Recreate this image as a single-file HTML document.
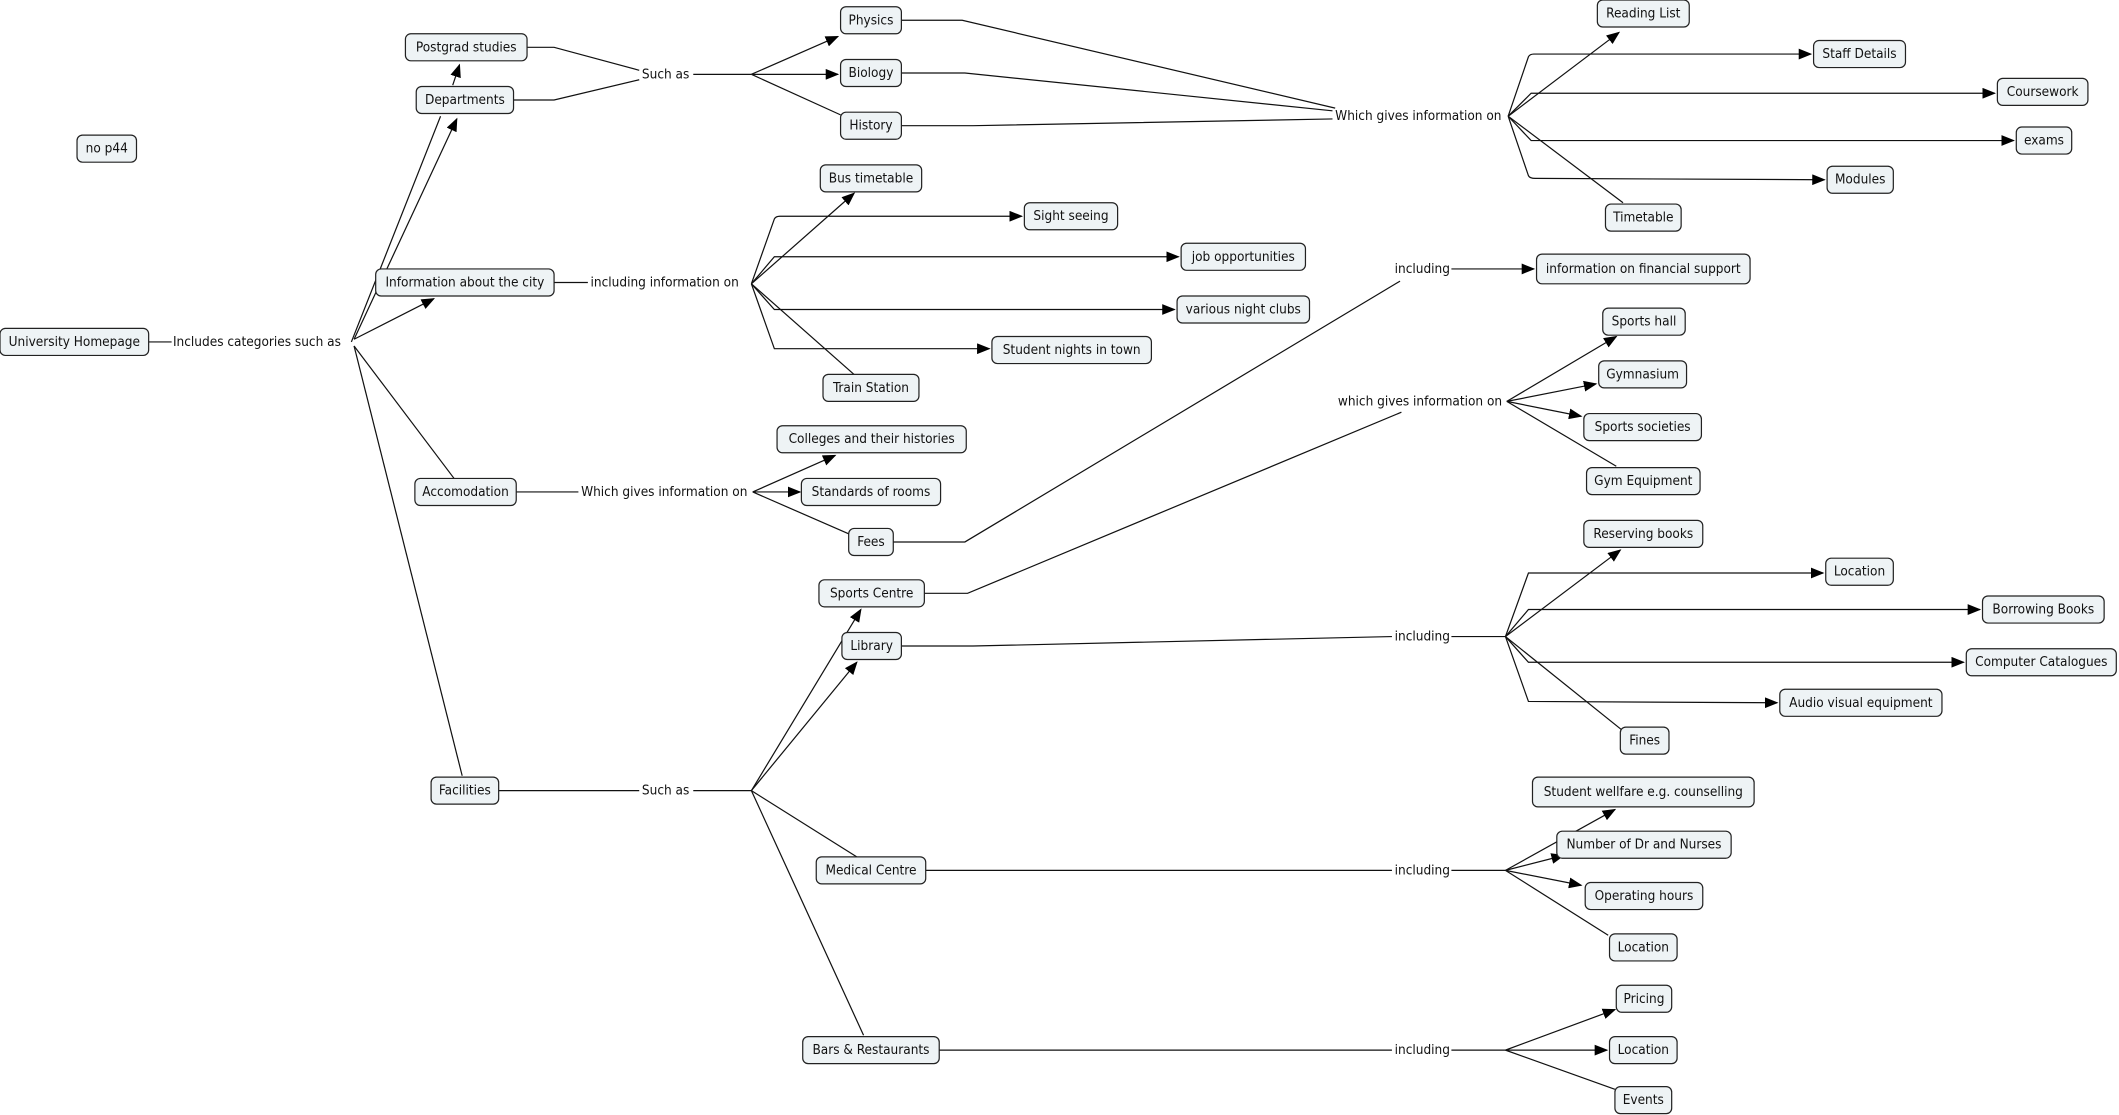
<!DOCTYPE html>
<html><head><meta charset="utf-8"><style>
html,body{margin:0;padding:0;background:#fff;width:2119px;height:1115px;overflow:hidden}
svg{display:block}
text{font-family:"DejaVu Sans Condensed","Liberation Sans",sans-serif;font-size:10px;fill:#111;dominant-baseline:central}
.b{fill:#eef3f5;stroke:#222;stroke-width:0.9}
.l{fill:none;stroke:#111;stroke-width:0.9}
</style></head><body>
<svg width="2119" height="1115" viewBox="0 0 1568 825" preserveAspectRatio="none">
<defs><marker id="a" markerWidth="10" markerHeight="8" refX="9" refY="4" orient="auto" markerUnits="userSpaceOnUse"><path d="M0,0 L10,4 L0,8 z" fill="#000"/></marker></defs>
<g class="l">
<path d="M110,253H127"/>
<path d="M260,253L326,86"/>
<path d="M262,251L338,88" marker-end="url(#a)"/>
<path d="M335,63L340,48" marker-end="url(#a)"/>
<path d="M262,251L321,221" marker-end="url(#a)"/>
<path d="M262,256L336,354"/>
<path d="M262,256L342,574"/>
<path d="M390,35H410L473,52"/>
<path d="M380,74H410L473,59"/>
<path d="M513,55H556"/>
<path d="M556,55L620,27" marker-end="url(#a)"/>
<path d="M556,55H620" marker-end="url(#a)"/>
<path d="M556,55L622,85"/>
<path d="M667,15H712L988,80"/>
<path d="M667,54H714L986,82"/>
<path d="M667,93H720L986,88"/>
<path d="M1116,86L1198,24" marker-end="url(#a)"/>
<path d="M1116,86L1131,42Q1132,40 1135,40H1340" marker-end="url(#a)"/>
<path d="M1116,86L1133,69H1476" marker-end="url(#a)"/>
<path d="M1116,86L1133,104H1490" marker-end="url(#a)"/>
<path d="M1116,86L1131,130Q1132,132 1136,132L1350,133" marker-end="url(#a)"/>
<path d="M1116,86L1201,150"/>
<path d="M410,209H435"/>
<path d="M556,210L632,143" marker-end="url(#a)"/>
<path d="M556,210L573,162Q574,160 577,160H756" marker-end="url(#a)"/>
<path d="M556,210L573,190H872" marker-end="url(#a)"/>
<path d="M556,210L573,229H869" marker-end="url(#a)"/>
<path d="M556,210L573,258H732" marker-end="url(#a)"/>
<path d="M556,210L633,278"/>
<path d="M382,364H428"/>
<path d="M557,364L618,337" marker-end="url(#a)"/>
<path d="M557,364H592" marker-end="url(#a)"/>
<path d="M557,364L628,395"/>
<path d="M661,401H714L1036,208"/>
<path d="M1074,199H1135" marker-end="url(#a)"/>
<path d="M684,439H716L1037,305"/>
<path d="M1115,297L1196,249" marker-end="url(#a)"/>
<path d="M1115,297L1181,284" marker-end="url(#a)"/>
<path d="M1115,297L1170,308" marker-end="url(#a)"/>
<path d="M1115,297L1196,345"/>
<path d="M369,585H473"/>
<path d="M513,585H556"/>
<path d="M556,585L637,451" marker-end="url(#a)"/>
<path d="M556,585L634,490" marker-end="url(#a)"/>
<path d="M556,585L634,634"/>
<path d="M556,585L639,766"/>
<path d="M667,478H720L1030,471"/>
<path d="M1074,471H1114"/>
<path d="M1114,471L1199,407" marker-end="url(#a)"/>
<path d="M1114,471L1131,424H1349" marker-end="url(#a)"/>
<path d="M1114,471L1131,451H1465" marker-end="url(#a)"/>
<path d="M1114,471L1131,490H1453" marker-end="url(#a)"/>
<path d="M1114,471L1131,519L1315,520" marker-end="url(#a)"/>
<path d="M1114,471L1200,540"/>
<path d="M685,644H1030"/>
<path d="M1074,644H1114"/>
<path d="M1114,644L1195,599" marker-end="url(#a)"/>
<path d="M1114,644L1157,633" marker-end="url(#a)"/>
<path d="M1114,644L1170,655" marker-end="url(#a)"/>
<path d="M1114,644L1190,692"/>
<path d="M695,777H1030"/>
<path d="M1074,777H1114"/>
<path d="M1114,777L1195,747" marker-end="url(#a)"/>
<path d="M1114,777H1189" marker-end="url(#a)"/>
<path d="M1114,777L1195,806"/>
</g>
<g>
<rect class="b" x="57" y="100" width="44" height="20" rx="4"/><text x="79" y="110" text-anchor="middle">no p44</text>
<rect class="b" x="0" y="243" width="110" height="20" rx="4"/><text x="55" y="253" text-anchor="middle">University Homepage</text>
<rect class="b" x="300" y="25" width="90" height="20" rx="4"/><text x="345" y="35" text-anchor="middle">Postgrad studies</text>
<rect class="b" x="308" y="64" width="72" height="20" rx="4"/><text x="344" y="74" text-anchor="middle">Departments</text>
<rect class="b" x="278" y="199" width="132" height="20" rx="4"/><text x="344" y="209" text-anchor="middle">Information about the city</text>
<rect class="b" x="307" y="354" width="75" height="20" rx="4"/><text x="344.5" y="364" text-anchor="middle">Accomodation</text>
<rect class="b" x="319" y="575" width="50" height="20" rx="4"/><text x="344" y="585" text-anchor="middle">Facilities</text>
<rect class="b" x="622" y="5" width="45" height="20" rx="4"/><text x="644.5" y="15" text-anchor="middle">Physics</text>
<rect class="b" x="622" y="44" width="45" height="20" rx="4"/><text x="644.5" y="54" text-anchor="middle">Biology</text>
<rect class="b" x="622" y="83" width="45" height="20" rx="4"/><text x="644.5" y="93" text-anchor="middle">History</text>
<rect class="b" x="1182" y="0" width="68" height="20" rx="4"/><text x="1216" y="10" text-anchor="middle">Reading List</text>
<rect class="b" x="1342" y="30" width="68" height="20" rx="4"/><text x="1376" y="40" text-anchor="middle">Staff Details</text>
<rect class="b" x="1478" y="58" width="67" height="20" rx="4"/><text x="1511.5" y="68" text-anchor="middle">Coursework</text>
<rect class="b" x="1492" y="94" width="41" height="20" rx="4"/><text x="1512.5" y="104" text-anchor="middle">exams</text>
<rect class="b" x="1352" y="123" width="49" height="20" rx="4"/><text x="1376.5" y="133" text-anchor="middle">Modules</text>
<rect class="b" x="1188" y="151" width="56" height="20" rx="4"/><text x="1216" y="161" text-anchor="middle">Timetable</text>
<rect class="b" x="607" y="122" width="75" height="20" rx="4"/><text x="644.5" y="132" text-anchor="middle">Bus timetable</text>
<rect class="b" x="758" y="150" width="69" height="20" rx="4"/><text x="792.5" y="160" text-anchor="middle">Sight seeing</text>
<rect class="b" x="874" y="180" width="92" height="20" rx="4"/><text x="920" y="190" text-anchor="middle">job opportunities</text>
<rect class="b" x="871" y="219" width="98" height="20" rx="4"/><text x="920" y="229" text-anchor="middle">various night clubs</text>
<rect class="b" x="734" y="249" width="118" height="20" rx="4"/><text x="793" y="259" text-anchor="middle">Student nights in town</text>
<rect class="b" x="609" y="277" width="71" height="20" rx="4"/><text x="644.5" y="287" text-anchor="middle">Train Station</text>
<rect class="b" x="575" y="315" width="140" height="20" rx="4"/><text x="645" y="325" text-anchor="middle">Colleges and their histories</text>
<rect class="b" x="593" y="354" width="103" height="20" rx="4"/><text x="644.5" y="364" text-anchor="middle">Standards of rooms</text>
<rect class="b" x="628" y="391" width="33" height="20" rx="4"/><text x="644.5" y="401" text-anchor="middle">Fees</text>
<rect class="b" x="1137" y="188" width="158" height="22" rx="4"/><text x="1216" y="199" text-anchor="middle">information on financial support</text>
<rect class="b" x="1186" y="228" width="61" height="20" rx="4"/><text x="1216.5" y="238" text-anchor="middle">Sports hall</text>
<rect class="b" x="1183" y="267" width="65" height="20" rx="4"/><text x="1215.5" y="277" text-anchor="middle">Gymnasium</text>
<rect class="b" x="1172" y="306" width="87" height="20" rx="4"/><text x="1215.5" y="316" text-anchor="middle">Sports societies</text>
<rect class="b" x="1174" y="346" width="84" height="20" rx="4"/><text x="1216" y="356" text-anchor="middle">Gym Equipment</text>
<rect class="b" x="606" y="429" width="78" height="20" rx="4"/><text x="645" y="439" text-anchor="middle">Sports Centre</text>
<rect class="b" x="623" y="468" width="44" height="20" rx="4"/><text x="645" y="478" text-anchor="middle">Library</text>
<rect class="b" x="1172" y="385" width="88" height="20" rx="4"/><text x="1216" y="395" text-anchor="middle">Reserving books</text>
<rect class="b" x="1351" y="413" width="50" height="20" rx="4"/><text x="1376" y="423" text-anchor="middle">Location</text>
<rect class="b" x="1467" y="441" width="90" height="20" rx="4"/><text x="1512" y="451" text-anchor="middle">Borrowing Books</text>
<rect class="b" x="1455" y="480" width="111" height="20" rx="4"/><text x="1510.5" y="490" text-anchor="middle">Computer Catalogues</text>
<rect class="b" x="1317" y="510" width="120" height="20" rx="4"/><text x="1377" y="520" text-anchor="middle">Audio visual equipment</text>
<rect class="b" x="1199" y="538" width="36" height="20" rx="4"/><text x="1217" y="548" text-anchor="middle">Fines</text>
<rect class="b" x="604" y="634" width="81" height="20" rx="4"/><text x="644.5" y="644" text-anchor="middle">Medical Centre</text>
<rect class="b" x="1134" y="575" width="164" height="22" rx="4"/><text x="1216" y="586" text-anchor="middle">Student wellfare e.g. counselling</text>
<rect class="b" x="1152" y="615" width="129" height="20" rx="4"/><text x="1216.5" y="625" text-anchor="middle">Number of Dr and Nurses</text>
<rect class="b" x="1173" y="653" width="87" height="20" rx="4"/><text x="1216.5" y="663" text-anchor="middle">Operating hours</text>
<rect class="b" x="1191" y="691" width="50" height="20" rx="4"/><text x="1216" y="701" text-anchor="middle">Location</text>
<rect class="b" x="594" y="767" width="101" height="20" rx="4"/><text x="644.5" y="777" text-anchor="middle">Bars &amp; Restaurants</text>
<rect class="b" x="1196" y="729" width="41" height="20" rx="4"/><text x="1216.5" y="739" text-anchor="middle">Pricing</text>
<rect class="b" x="1191" y="767" width="50" height="20" rx="4"/><text x="1216" y="777" text-anchor="middle">Location</text>
<rect class="b" x="1195" y="804" width="42" height="20" rx="4"/><text x="1216" y="814" text-anchor="middle">Events</text>
</g>
<g>
<text x="128" y="253">Includes categories such as</text>
<text x="475" y="55">Such as</text>
<text x="988" y="86">Which gives information on</text>
<text x="437" y="209">including information on</text>
<text x="430" y="364">Which gives information on</text>
<text x="1032" y="199">including</text>
<text x="990" y="297">which gives information on</text>
<text x="475" y="585">Such as</text>
<text x="1032" y="471">including</text>
<text x="1032" y="644">including</text>
<text x="1032" y="777">including</text>
</g>
</svg>
</body></html>
